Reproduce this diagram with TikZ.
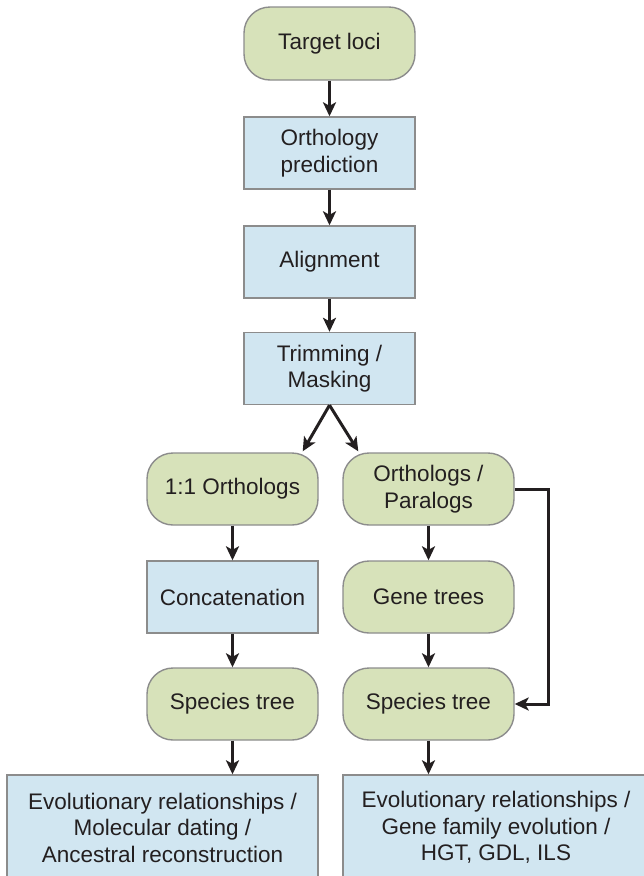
\documentclass[tikz,border=0pt]{standalone}
\usepackage{fontspec}
\setmainfont{Liberation Sans}
\usetikzlibrary{arrows.meta,calc}
\definecolor{gfill}{HTML}{D7E2BA}
\definecolor{bfill}{HTML}{D1E6F1}
\definecolor{edgegray}{HTML}{8C8C8C}
\definecolor{ink}{HTML}{231F20}
\begin{document}
\begin{tikzpicture}[x=1pt,y=-1pt,
 base/.style={draw=edgegray, line width=1.4pt, text=ink, font=\fontsize{22.5}{26.5}\selectfont, align=center, inner sep=0pt, minimum width=171pt, minimum height=72pt},
 greenbox/.style={base, fill=gfill, rounded corners=26pt},
 bluebox/.style={base, fill=bfill},
 arr/.style={draw=ink, line width=3pt, -{Stealth[length=14pt,width=13pt,inset=3.5pt]}}]
\useasboundingbox (0,0) rectangle (644,876);
\clip (0,0) rectangle (644,876);
\node[greenbox, minimum height=73pt] (target) at (329.5,43.5) {Target loci};
\node[bluebox] (ortho) at (329.5,153) {Orthology\\prediction};
\node[bluebox] (align) at (329.5,262) {Alignment};
\node[bluebox] (trim) at (329.5,368.5) {Trimming /\\Masking};
\node[greenbox] (o11) at (232.5,489) {1:1 Orthologs};
\node[greenbox] (op) at (428.5,489) {Orthologs /\\Paralogs};
\node[bluebox] (concat) at (232.5,597) {Concatenation};
\node[greenbox] (gene) at (428.5,597) {Gene trees};
\node[greenbox] (stl) at (232.5,704) {Species tree};
\node[greenbox] (str) at (428.5,704) {Species tree};
\node[bluebox, minimum width=311pt, minimum height=105pt] (resl) at (162.5,827.5) {Evolutionary relationships /\\Molecular dating /\\Ancestral reconstruction};
\node[bluebox, minimum width=306pt, minimum height=105pt] (resr) at (496,827.5) {Evolutionary relationships /\\Gene family evolution /\\HGT, GDL, ILS};
\coordinate (bypass) at (548.5,489);
\draw[arr] (target) -- (ortho);
\draw[arr] (ortho) -- (align);
\draw[arr] (align) -- (trim);
\draw[arr] (trim.south) -- ([xshift=-16pt,yshift=1pt]o11.north east);
\draw[arr] (trim.south) -- ([xshift=16pt,yshift=1pt]op.north west);
\draw[arr] (o11) -- (concat);
\draw[arr] (concat) -- (stl);
\draw[arr] (stl) -- (stl |- resl.north);
\draw[arr] (op) -- (gene);
\draw[arr] (gene) -- (str);
\draw[arr] (str) -- (str |- resr.north);
\draw[arr, rounded corners=0pt] (op.east) -- (bypass) |- (str.east);
\end{tikzpicture}
\end{document}
